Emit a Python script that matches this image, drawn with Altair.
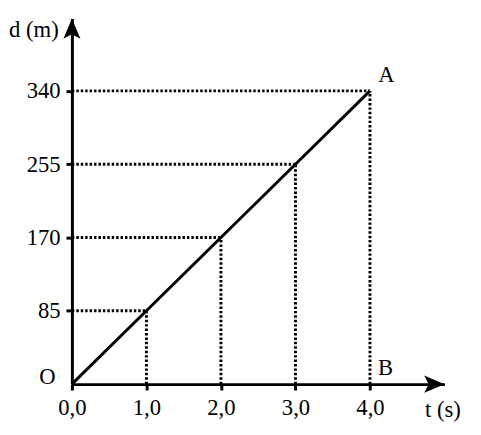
import altair as alt
import pandas as pd

# Data
t_vals = [0.0, 1.0, 2.0, 3.0, 4.0]
d_vals = [0, 85, 170, 255, 340]
x_ticks = [0.0, 1.0, 2.0, 3.0, 4.0]
y_ticks = [85, 170, 255, 340]

X_MAX = 5.0
Y_MAX = 424

FONT = "Liberation Serif"
FS = 23

line_df = pd.DataFrame({"t": t_vals, "d": d_vals})
guide_df = pd.DataFrame({"t": t_vals[1:], "d": d_vals[1:], "zero": [0] * 4})

labels_df = pd.DataFrame({
    "t": [-0.33, 4.22, 4.21, 4.98, -0.51],
    "d": [8, 358, 19, -30, 411],
    "label": ["O", "A", "B", "t (s)", "d (m)"],
})

xs = alt.Scale(domain=[0, X_MAX], nice=False, zero=False)
ys = alt.Scale(domain=[0, Y_MAX], nice=False, zero=False)

x_axis = alt.Axis(
    values=x_ticks, title=None, grid=False,
    labelExpr="replace(format(datum.value, '.1f'), '.', ',')",
    domainColor="black", domainWidth=3, tickColor="black", tickWidth=3,
    tickSize=6, labelPadding=7, labelFont=FONT, labelFontSize=FS,
    labelColor="black", labelFlush=False,
)
y_axis = alt.Axis(
    values=y_ticks, title=None, grid=False, format="d",
    domainColor="black", domainWidth=3, tickColor="black", tickWidth=3,
    tickSize=6, labelPadding=6, labelFont=FONT, labelFontSize=FS,
    labelColor="black",
)

base = alt.Chart(line_df)

main_line = base.mark_line(color="black", strokeWidth=3, clip=False).encode(
    x=alt.X("t:Q", scale=xs, axis=x_axis),
    y=alt.Y("d:Q", scale=ys, axis=y_axis),
)

vert = alt.Chart(guide_df).mark_rule(
    color="black", strokeWidth=3, strokeDash=[2.5, 2]
).encode(x=alt.X("t:Q", scale=xs), y=alt.Y("zero:Q", scale=ys), y2="d:Q")

horiz = alt.Chart(guide_df).mark_rule(
    color="black", strokeWidth=3, strokeDash=[2.5, 2]
).encode(x=alt.X("zero:Q", scale=xs), x2="t:Q", y=alt.Y("d:Q", scale=ys))

arrow_x = alt.Chart(pd.DataFrame({"t": [X_MAX], "d": [0]})).mark_point(
    shape="M0,0L-1,-0.42L-0.78,0L-1,0.42Z", filled=True, color="black",
    opacity=1, size=1700, clip=False,
).encode(x=alt.X("t:Q", scale=xs), y=alt.Y("d:Q", scale=ys))

arrow_y = alt.Chart(pd.DataFrame({"t": [0], "d": [Y_MAX]})).mark_point(
    shape="M0,0L-0.42,1L0,0.78L0.42,1Z", filled=True, color="black",
    opacity=1, size=1700, clip=False,
).encode(x=alt.X("t:Q", scale=xs), y=alt.Y("d:Q", scale=ys))

texts = alt.Chart(labels_df).mark_text(
    font=FONT, fontSize=FS, color="black", align="center", baseline="middle",
    clip=False,
).encode(x=alt.X("t:Q", scale=xs), y=alt.Y("d:Q", scale=ys), text="label:N")

chart = alt.layer(vert, horiz, main_line, arrow_x, arrow_y, texts).properties(
    width=379, height=372, autosize="none",
    padding={"left": 65, "top": 7, "right": 29, "bottom": 40},
    background="white",
).configure_view(stroke=None)

chart.save("out.html", embed_options={"renderer": "svg", "actions": False})
